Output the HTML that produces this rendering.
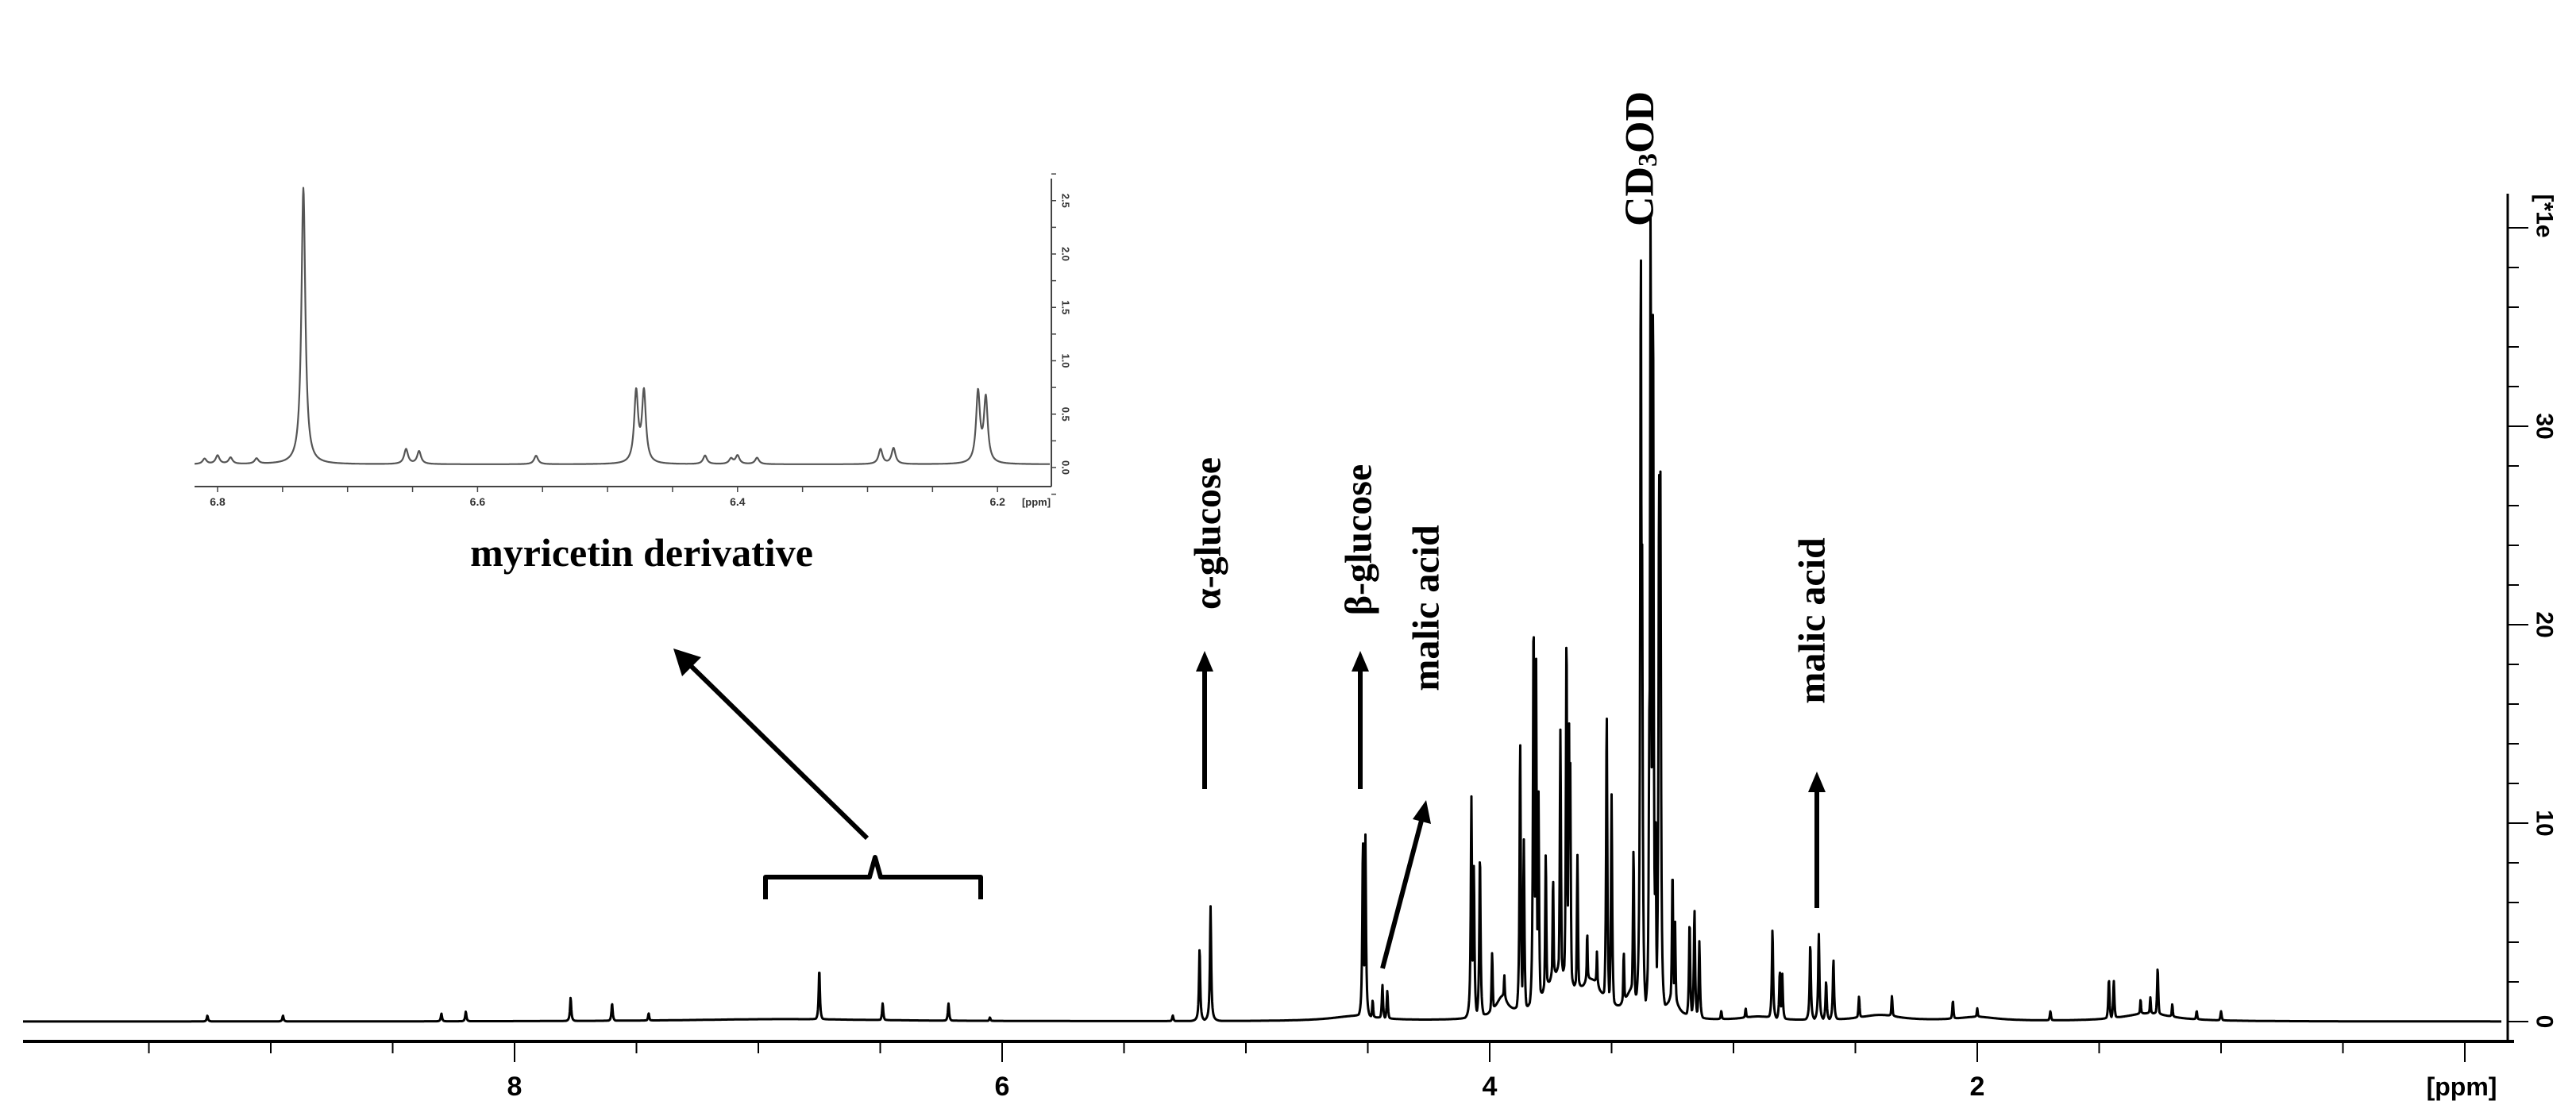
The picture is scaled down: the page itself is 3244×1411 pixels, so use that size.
<!DOCTYPE html>
<html><head><meta charset="utf-8"><style>
html,body{margin:0;padding:0;background:#fff;}
svg{display:block;}
text{font-family:"Liberation Serif",serif;}
.ax{font-family:"Liberation Sans",sans-serif;font-weight:bold;}
</style></head><body>
<svg id="chart" width="3244" height="1411" viewBox="0 0 3244 1411" xmlns="http://www.w3.org/2000/svg">
<rect width="3244" height="1411" fill="#fff"/>
<g id="main-axes"></g>
<g id="inset-axes"></g>
<path id="main-line" fill="none" stroke="#000" stroke-width="3" stroke-linejoin="round"/>
<path id="inset-line" fill="none" stroke="#555" stroke-width="2.2" stroke-linejoin="round"/>
<g font-weight="bold" fill="#000">
  <text x="808" y="696" font-size="50" text-anchor="middle" dominant-baseline="central">myricetin derivative</text>
  <text transform="translate(1521,672) rotate(-90)" font-size="48" text-anchor="middle" dominant-baseline="central">α-glucose</text>
  <text transform="translate(1711,680) rotate(-90)" font-size="48" text-anchor="middle" dominant-baseline="central">β-glucose</text>
  <text transform="translate(1796,766) rotate(-90)" font-size="48" text-anchor="middle" dominant-baseline="central">malic acid</text>
  <text transform="translate(2282,782) rotate(-90)" font-size="48" text-anchor="middle" dominant-baseline="central">malic acid</text>
  <text transform="translate(2065,200) rotate(-90)" font-size="52" text-anchor="middle" dominant-baseline="central">CD<tspan font-size="34" dy="10">3</tspan><tspan dy="-10">OD</tspan></text>
  <path d="M964,1133 L964,1105 L1095,1105 L1102,1080 L1109,1105 L1235,1105 L1235,1133" fill="none" stroke="#000" stroke-width="6" stroke-linejoin="round"/>
  <line x1="1092" y1="1056" x2="865" y2="834" stroke="#000" stroke-width="6"/>
  <polygon points="848,817 883,828 859,852"/>
  <line x1="1517" y1="994" x2="1517" y2="840" stroke="#000" stroke-width="6"/>
  <polygon points="1517,820 1506,846 1528,846"/>
  <line x1="1713" y1="994" x2="1713" y2="840" stroke="#000" stroke-width="6"/>
  <polygon points="1713,820 1702,846 1724,846"/>
  <line x1="1741" y1="1220" x2="1791" y2="1030" stroke="#000" stroke-width="6"/>
  <polygon points="1796,1008 1779,1032 1802,1038"/>
  <line x1="2288" y1="1144" x2="2288" y2="992" stroke="#000" stroke-width="6"/>
  <polygon points="2288,972 2277,998 2299,998"/>
</g>
</svg>
<script>
// main spectrum peaks: ppm centers, heights (axis units)
const peakPpm = [9.26,8.95,8.3,8.2,7.77,7.6,7.45,6.75,6.49,6.22,6.05,5.3,5.19,5.145,4.52,4.51,4.48,4.44,4.42,
 4.075,4.065,4.04,3.99,3.94,3.875,3.86,3.82,3.81,3.80,3.77,3.74,3.71,3.685,3.675,3.67,3.64,3.60,3.56,3.52,3.50,3.45,
 3.41,3.38,3.375,3.345,3.34,3.33,3.32,3.305,3.30,3.25,3.24,3.18,3.16,3.14,3.05,2.95,2.84,2.81,2.80,2.685,2.65,2.62,2.59,
 2.485,2.35,2.1,2.0,1.7,1.46,1.44,1.33,1.29,1.26,1.2,1.1,1.0];
const peakHeight = [0.3,0.3,0.4,0.5,1.2,0.9,0.4,2.6,0.9,0.9,0.2,0.3,3.7,5.8,9.1,9.4,1.0,1.8,1.5,
 11.3,7.8,8.4,3.3,2.0,14.0,9.0,20.4,18.6,11.4,8.0,6.6,14.0,19.1,15.3,13.0,7.9,3.9,3.0,15.3,11.2,3.2,
 8.3,39.3,24.3,15.7,41.2,37.0,10.6,28.0,27.9,7.3,4.9,5.0,5.6,4.0,0.5,0.6,4.6,2.5,2.4,3.9,4.4,2.0,3.1,
 1.2,1.2,1.0,0.6,0.5,2.1,2.0,1.0,1.1,2.6,0.8,0.5,0.5];
const peakWidth = 0.003;
// broad underlying humps
const humpPpm = [3.95,3.72,3.58,3.42,3.25,2.9,2.4,2.0,1.3,6.9,4.55];
const humpHeight = [1.0,2.2,1.6,1.2,1.0,0.2,0.3,0.2,0.4,0.12,0.25];
const humpWidth = [0.03,0.07,0.05,0.03,0.03,0.08,0.1,0.1,0.12,0.5,0.12];

// inset (6.82 - 6.16 ppm)
const insetPpm = [6.81,6.80,6.79,6.77,6.734,6.655,6.645,6.555,6.478,6.472,6.425,6.405,6.40,6.385,6.29,6.28,6.215,6.209];
const insetHeight = [0.05,0.08,0.06,0.05,2.59,0.14,0.12,0.08,0.66,0.66,0.08,0.05,0.08,0.06,0.14,0.15,0.66,0.6];
const insetWidth = 0.0018;

const mainTicksY = [0,10,20,30];
const mainTicksX = [8,6,4,2];
const insetTicksX = [6.8,6.6,6.4,6.2];
const insetTicksY = ["0.0","0.5","1.0","1.5","2.0","2.5"];

const NS="http://www.w3.org/2000/svg";
function mk(tag, attrs, parent){const e=document.createElementNS(NS,tag);for(const k in attrs)e.setAttribute(k,attrs[k]);parent.appendChild(e);return e;}

function xMain(p){return 1876+(4-p)*307;}
function yMain(v){return 1287-v*25;}
function xInset(p){return 274+(6.8-p)*1637;}
function yInset(v){return 589-v*134.5;}

function mainVal(p){
  let m=0,h=0;
  for(let i=0;i<peakPpm.length;i++){const d=(p-peakPpm[i])/peakWidth;m=Math.max(m,peakHeight[i]/(1+d*d));}
  for(let i=0;i<humpPpm.length;i++){const d=(p-humpPpm[i])/humpWidth[i];h+=humpHeight[i]/(1+d*d);}
  return Math.max(m,h)+0.3*Math.min(m,h);
}
let d="";
for(let x=29;x<=3150;x+=0.5){
  const p=4-(x-1876)/307;
  const y=yMain(mainVal(p));
  d+=(x===29?"M":"L")+x.toFixed(1)+","+y.toFixed(1);
}
document.getElementById('main-line').setAttribute('d',d);

function insetVal(p){
  let s=0.03;
  for(let i=0;i<insetPpm.length;i++){const dd=(p-insetPpm[i])/insetWidth;s+=insetHeight[i]/(1+dd*dd);}
  return s;
}
let di="";
for(let x=245;x<=1322;x+=0.5){
  const p=6.8-(x-274)/1637;
  di+=(x===245?"M":"L")+x.toFixed(1)+","+yInset(insetVal(p)).toFixed(1);
}
document.getElementById('inset-line').setAttribute('d',di);

const ma=document.getElementById('main-axes');
let ml=mk('line',{x1:29,y1:1312,x2:3166,y2:1312,stroke:'#000','stroke-width':4},ma);


let ry=mk('line',{x1:3158,y1:244,x2:3158,y2:1314,stroke:'#000','stroke-width':3},ma);


for(let p=9.5;p>=-0.01;p-=0.5){
  const major=Math.abs(p-Math.round(p))<0.01 && Math.round(p)%2===0;
  const t=mk('line',{x1:xMain(p),y1:1312,x2:xMain(p),y2:major?1338:1327,stroke:'#000','stroke-width':2},ma);
  
  
}
mainTicksX.forEach(v=>{
  const t=mk('text',{x:xMain(v),y:1380,'font-size':34,'text-anchor':'middle',class:'ax'},ma);
  t.textContent=String(v);
  
  
});
const pp=mk('text',{x:xMain(0)-4,y:1380,'font-size':32,'text-anchor':'middle',class:'ax'},ma);
pp.textContent='[ppm]';


for(let v=0;v<=40;v+=2){
  const major=v%10===0;
  const t=mk('line',{x1:3158,y1:yMain(v),x2:major?3184:3172,y2:yMain(v),stroke:'#000','stroke-width':2},ma);
  
  
}
mainTicksY.forEach(v=>{
  const t=mk('text',{transform:`translate(3204,${yMain(v)}) rotate(90)`,'font-size':30,'text-anchor':'middle','dominant-baseline':'central',class:'ax'},ma);
  t.textContent=String(v);
  
  
});
const ye=mk('text',{transform:'translate(3204,272) rotate(90)','font-size':30,'text-anchor':'middle','dominant-baseline':'central',class:'ax'},ma);
ye.textContent='[*1e';



const ia=document.getElementById('inset-axes');
let il=mk('line',{x1:245,y1:613,x2:1324,y2:613,stroke:'#444','stroke-width':2},ia);


let iy=mk('line',{x1:1324,y1:225,x2:1324,y2:613,stroke:'#444','stroke-width':2},ia);


for(let p=6.8;p>=6.16;p-=0.05){
  const t=mk('line',{x1:xInset(p),y1:613,x2:xInset(p),y2:620,stroke:'#444','stroke-width':1.5},ia);
  
  
}
insetTicksX.forEach(v=>{
  const t=mk('text',{x:xInset(v),y:637,'font-size':14,'text-anchor':'middle',class:'ax',fill:'#333'},ia);
  t.textContent=v.toFixed(1);
  
  
});
const ip=mk('text',{x:1305,y:637,'font-size':13,'text-anchor':'middle',class:'ax',fill:'#333'},ia);
ip.textContent='[ppm]';


for(let v=-0.25;v<=2.75;v+=0.25){
  const t=mk('line',{x1:1324,y1:yInset(v),x2:1330,y2:yInset(v),stroke:'#444','stroke-width':1.5},ia);
  
  
}
insetTicksY.forEach(s=>{
  const t=mk('text',{transform:`translate(1342,${yInset(parseFloat(s))}) rotate(90)`,'font-size':13,'text-anchor':'middle','dominant-baseline':'central',class:'ax',fill:'#333'},ia);
  t.textContent=s;
  
  
});
</script>
</body></html>
